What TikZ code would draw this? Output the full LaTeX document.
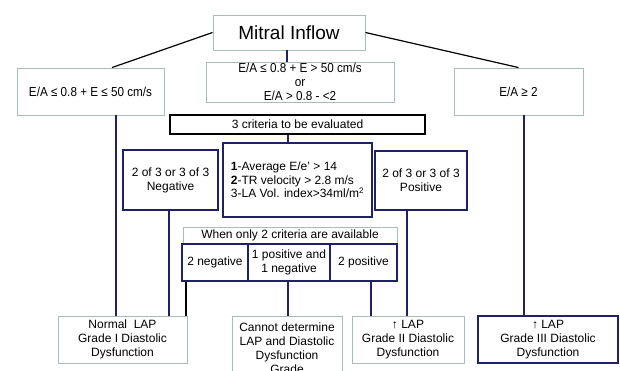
\documentclass[tikz,border=0pt]{standalone}
\usepackage{fontspec}
\setmainfont{Liberation Sans}
\newfontfamily\condfont[FakeStretch=0.9]{Liberation Sans}
\definecolor{navyc}{RGB}{32,32,100}
\definecolor{grayc}{RGB}{168,188,188}
\tikzset{
  base/.style={rectangle, inner sep=0pt, align=center, font=\fontsize{12}{14}\selectfont, text=black},
  gbox/.style={base, draw=grayc, line width=0.9pt, fill=white},
  nbox/.style={base, draw=navyc, line width=2.4pt, fill=white},
  bbox/.style={base, draw=black, line width=2.6pt, fill=white},
  topfont/.style={font=\condfont\fontsize{13}{14}\selectfont},
  nline/.style={draw=navyc, line width=1.8pt},
  kline/.style={draw=black, line width=1.2pt},
}
\begin{document}
\begin{tikzpicture}[x=1pt,y=-1pt]
\useasboundingbox[fill=white] (0,0) rectangle (620,371);

\node[gbox, minimum width=152, minimum height=35, font=\fontsize{19}{22}\selectfont] (mitral) at (289,32.5) {Mitral Inflow};
\node[gbox, topfont, minimum width=147, minimum height=47] (left) at (90.5,91.5) {E/A ≤ 0.8 + E ≤ 50 cm/s};
\node[gbox, topfont, minimum width=188, minimum height=40] (mid) at (300,82) {E/A ≤ 0.8 + E > 50 cm/s\\or\\E/A > 0.8 - <2};
\node[gbox, topfont, minimum width=129, minimum height=47] (right) at (518.5,91.5) {E/A ≥ 2};

\node[bbox, minimum width=255, minimum height=19] (crit3) at (297.5,124.5) {3 criteria to be evaluated};
\node[nbox, minimum width=149, minimum height=74, align=left, font=\fontsize{12}{13.5}\selectfont] (criteria) at (297.5,180) {\textbf{1}-Average E/e' > 14\\\textbf{2}-TR velocity > 2.8 m/s\\3-LA Vol. index>34ml/m\textsuperscript{2}};
\node[nbox, minimum width=95, minimum height=60] (neg) at (170.5,180) {2 of 3 or 3 of 3\\Negative};
\node[nbox, minimum width=92, minimum height=59] (pos) at (421,180.5) {2 of 3 or 3 of 3\\Positive};

\node[gbox, minimum width=214, minimum height=17] (when) at (290,235.5) {When only 2 criteria are available};
\node[nbox, minimum width=66, minimum height=37] (twoneg) at (215,262.5) {2 negative};
\node[nbox, minimum width=82, minimum height=37] (onepos) at (289,262.5) {1 positive and\\1 negative};
\node[nbox, minimum width=67, minimum height=37] (twopos) at (363.5,262.5) {2 positive};

\node[gbox, minimum width=129, minimum height=47] (lap1) at (122.5,339.5) {Normal~ LAP\\Grade I Diastolic\\Dysfunction};
\node[gbox, minimum width=110, minimum height=64] (cannot) at (287,348) {Cannot determine\\LAP and Diastolic\\Dysfunction\\Grade};
\node[gbox, minimum width=112, minimum height=47] (lap2) at (408,339.5) {↑ LAP\\Grade II Diastolic\\Dysfunction};
\node[nbox, minimum width=140, minimum height=47] (lap3) at (548,339.5) {↑ LAP\\Grade III Diastolic\\Dysfunction};

% connectors
\draw[kline] (mitral.west) -- ([xshift=21.5]left.north);
\draw[kline] (mitral.east) -- (right.north);
\draw[nline] ([xshift=-2]mitral.south) -- ([xshift=-2]mitral.south |- mid.north);
\draw[nline] ([xshift=-9.5]crit3.south) -- ([xshift=-9.5]crit3.south |- criteria.north);
\draw[nline] ([xshift=25.5]left.south) -- ([xshift=25.5]left.south |- lap1.north);
\draw[nline] ([xshift=-1.5]neg.south) -- ([xshift=-1.5]neg.south |- lap1.north);
\draw[kline, line width=1.6pt] ([xshift=-29]twoneg.south) -- ([xshift=-29]twoneg.south |- lap1.north);
\draw[nline] ([xshift=-1]onepos.south) -- ([xshift=-1]onepos.south |- cannot.north);
\draw[nline] ([xshift=7.5]twopos.south) -- ([xshift=7.5]twopos.south |- lap2.north);
\draw[nline] ([xshift=-14]pos.south) -- ([xshift=-14]pos.south |- lap2.north);
\draw[nline] ([xshift=5.5]right.south) -- ([xshift=5.5]right.south |- lap3.north);
\end{tikzpicture}
\end{document}
